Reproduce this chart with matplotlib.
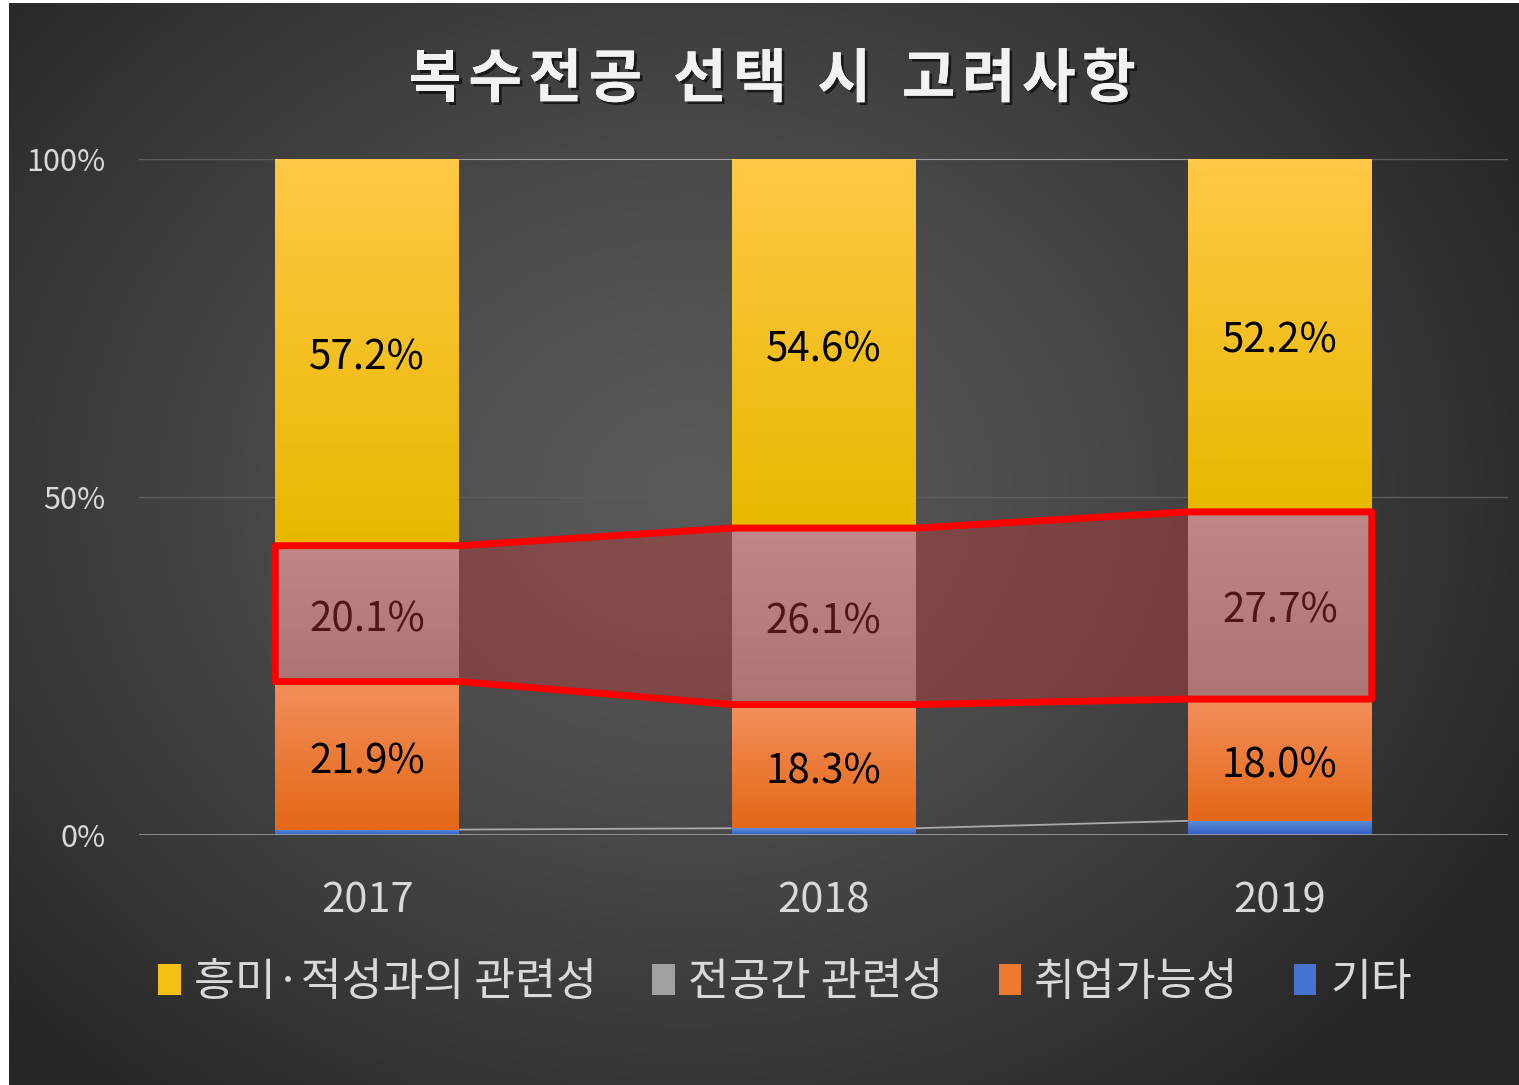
import numpy as np
import matplotlib
matplotlib.use("Agg")
import matplotlib.pyplot as plt
from matplotlib.patches import Polygon, Rectangle
import matplotlib.patheffects as pe
from matplotlib.transforms import offset_copy

plt.rcParams['font.family'] = ['Noto Sans CJK KR', 'DejaVu Sans']

# ---------------- data ----------------
years = ["2017", "2018", "2019"]
series_names = ["기타", "취업가능성", "전공간 관련성", "흥미·적성과의 관련성"]  # bottom -> top
other = [0.8, 1.0, 2.1]
employ = [21.9, 18.3, 18.0]
between = [20.1, 26.1, 27.7]
interest = [57.2, 54.6, 52.2]
title = "복수전공 선택 시 고려사항"
ytick_vals = [0, 50, 100]
ytick_labels = ["0%", "50%", "100%"]
legend_order = ["흥미·적성과의 관련성", "전공간 관련성", "취업가능성", "기타"]

# gradient colours (top, bottom)
grad = {
    "흥미·적성과의 관련성": ((255, 200, 70), (232, 184, 0)),
    "전공간 관련성": ((188, 188, 188), (156, 156, 156)),
    "취업가능성": ((243, 143, 92), (228, 104, 22)),
    "기타": ((95, 140, 218), (50, 95, 195)),
}
legend_cols = {
    "흥미·적성과의 관련성": (245, 192, 20),
    "전공간 관련성": (160, 160, 160),
    "취업가능성": (238, 122, 48),
    "기타": (70, 115, 205),
}
label_show = {"흥미·적성과의 관련성": True, "전공간 관련성": True, "취업가능성": True, "기타": False}

W, H = 1519, 1085
fig = plt.figure(figsize=(W / 100, H / 100), dpi=100)
fig.patch.set_facecolor("white")

# ---------------- background (radial gradient) ----------------
bg = fig.add_axes([9 / W, 0, (W - 9) / W, (H - 3) / H], zorder=-10)
ny, nx = 300, 420
yy, xx = np.mgrid[0:ny, 0:nx]
cx, cy = nx * 0.45, ny * 0.45
d = np.sqrt(((xx - cx) / (nx * 0.62)) ** 2 + ((yy - cy) / (ny * 0.72)) ** 2)
d = np.clip(d, 0, 1)
v = (90 - (90 - 38) * d ** 1.3) / 255.0
img = np.dstack([v, v, v])
bg.imshow(img, aspect="auto", extent=(0, 1, 0, 1), origin="upper", interpolation="bicubic")
bg.set_xlim(0, 1); bg.set_ylim(0, 1)
bg.axis("off")

# ---------------- main axes ----------------
ax = fig.add_axes([139 / W, (H - 835) / H, (1508 - 139) / W, 676 / H])
ax.patch.set_alpha(0)
for s in ax.spines.values():
    s.set_visible(False)
ax.set_xlim(-0.5, 2.5)
ax.set_ylim(0, 100)

ax.axhline(50, color="#5c5c5c", lw=1.0, zorder=1)
ax.axhline(100, color="#5c5c5c", lw=1.0, zorder=1)
ax.axhline(0, color="#a8a8a8", lw=1.8, zorder=6)

x = np.arange(len(years))
bw = 0.403
stack = [other, employ, between, interest]
bottoms = np.zeros(len(years))
tops_all = []
lab_tr = offset_copy(ax.transData, fig=fig, x=0, y=-6, units="dots")
for name, vals in zip(series_names, stack):
    vals = np.array(vals)
    top_c, bot_c = grad[name]
    g = np.linspace(0, 1, 64)[:, None]
    col = (np.array(top_c)[None, :] * (1 - g) + np.array(bot_c)[None, :] * g) / 255.0
    gimg = col[:, None, :]
    for i in range(len(years)):
        b, t = bottoms[i], bottoms[i] + vals[i]
        ax.imshow(gimg, aspect="auto", extent=(x[i] - bw / 2, x[i] + bw / 2, b, t),
                  origin="upper", interpolation="bilinear", zorder=3)
        if label_show[name]:
            ax.text(x[i], (b + t) / 2, f"{vals[i]:.1f}%", ha="center", va="center",
                    fontsize=29, color="black", zorder=4, transform=lab_tr)
    bottoms = bottoms + vals
    tops_all.append(bottoms.copy())

# series lines
for tops in tops_all:
    for i in range(len(years) - 1):
        ax.plot([x[i] + bw / 2, x[i + 1] - bw / 2], [tops[i], tops[i + 1]],
                color="#a9a9a9", lw=1.3, zorder=2.5, solid_capstyle="butt")

ax.set_xlim(-0.5, 2.5)
ax.set_ylim(0, 100)

# highlight polygon around 전공간 관련성
seg_bot = tops_all[1]
seg_top = tops_all[2]
upper = []
lower = []
for i in range(len(years)):
    upper += [(x[i] - bw / 2, seg_top[i]), (x[i] + bw / 2, seg_top[i])]
    lower += [(x[i] - bw / 2, seg_bot[i]), (x[i] + bw / 2, seg_bot[i])]
verts = upper + lower[::-1]
poly = Polygon(verts, closed=True, facecolor=(194 / 255, 59 / 255, 57 / 255, 0.4),
               edgecolor="#ff0000", lw=5, joinstyle="round", zorder=5)
ax.add_patch(poly)

# ticks
ax.set_yticks(ytick_vals)
ax.set_yticklabels(ytick_labels)
ax.set_xticks(x)
ax.set_xticklabels(years)
ax.tick_params(axis="y", length=0, pad=24, labelsize=22, labelcolor="#d9d9d9")
ax.tick_params(axis="x", length=0, pad=33, labelsize=30, labelcolor="#d9d9d9")

# title with letter spacing
renderer = fig.canvas.get_renderer()
tkw = dict(fontsize=42, fontweight="bold", color="#f2f2f2",
           path_effects=[pe.withSimplePatchShadow(offset=(2, -2), shadow_rgbFace="black", alpha=0.6),
                         pe.Normal()])
tracking = 6.5  # px
widths = []
for ch in title:
    if ch == " ":
        t = fig.text(0, 0, "가", **tkw)
        w = t.get_window_extent(renderer).width * 0.33
    else:
        t = fig.text(0, 0, ch, **tkw)
        w = t.get_window_extent(renderer).width
    t.remove()
    widths.append(w)
total = sum(widths) + tracking * (len(title) - 1)
cur = 772 - total / 2
for ch, w in zip(title, widths):
    if ch != " ":
        fig.text(cur / W, 1 - 80 / H, ch, ha="left", va="center", **tkw)
    cur += w + tracking

# legend
handles = [Rectangle((0, 0), 1, 1, facecolor=np.array(legend_cols[n]) / 255.0, edgecolor="none")
           for n in legend_order]
leg = fig.legend(handles, legend_order, loc="center", bbox_to_anchor=(785 / W, 1 - 982 / H),
                 ncol=4, frameon=False, fontsize=32, labelcolor="#d9d9d9",
                 handlelength=0.5, handleheight=0.7, handletextpad=0.3, columnspacing=1.25)

fig.savefig("out.png", dpi=100, facecolor=fig.get_facecolor())
